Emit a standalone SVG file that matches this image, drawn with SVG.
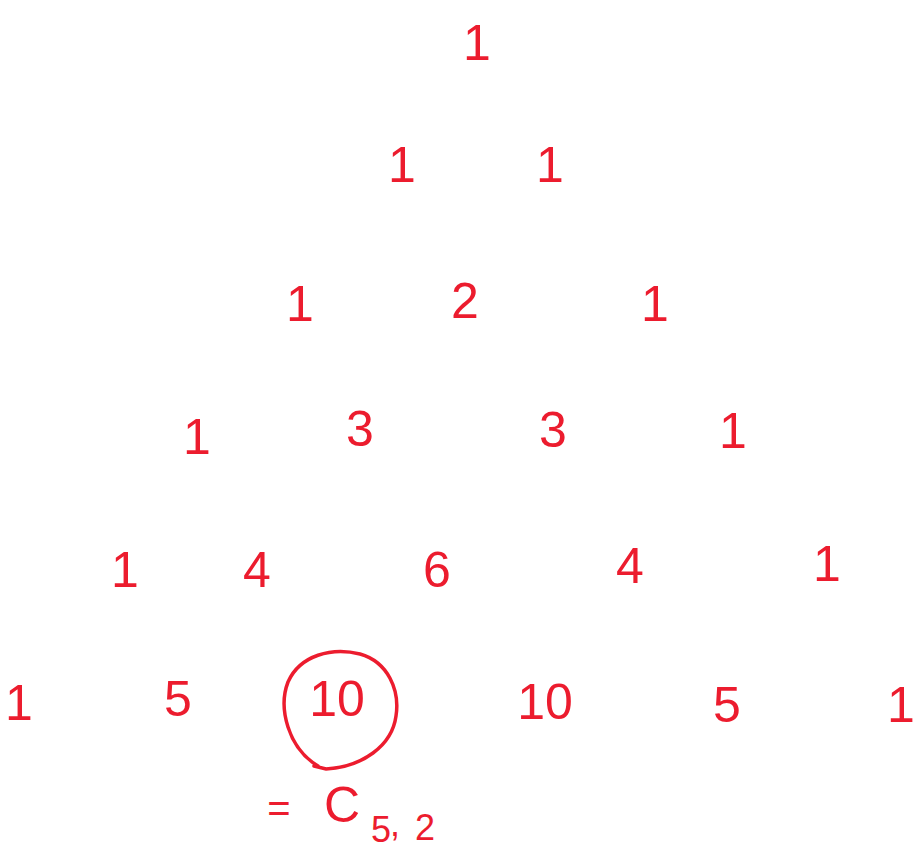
<svg xmlns="http://www.w3.org/2000/svg" width="917" height="855" viewBox="0 0 917 855">
<style>
.n{font-family:"Liberation Sans",Arial,sans-serif;font-size:50px;fill:#ec1c2e;text-anchor:middle}
.s{font-family:"Liberation Sans",Arial,sans-serif;font-size:36px;fill:#ec1c2e;text-anchor:middle}
.c{fill:none;stroke:#ec1c2e;stroke-width:3.5;stroke-linecap:round}
</style>
<rect width="917" height="855" fill="#ffffff"/>
<g id="r0"><text class="n" x="477" y="60">1</text></g>
<g id="r1"><text class="n" x="402" y="182">1</text><text class="n" x="550" y="182">1</text></g>
<g id="r2"><text class="n" x="300" y="321">1</text><text class="n" x="465" y="318">2</text><text class="n" x="655" y="321">1</text></g>
<g id="r3"><text class="n" x="197" y="454">1</text><text class="n" x="360" y="446">3</text><text class="n" x="553" y="447">3</text><text class="n" x="733" y="448">1</text></g>
<g id="r4"><text class="n" x="125" y="587">1</text><text class="n" x="257" y="587">4</text><text class="n" x="437" y="587">6</text><text class="n" x="630" y="583">4</text><text class="n" x="827" y="581">1</text></g>
<g id="r5"><text class="n" x="19" y="720">1</text><text class="n" x="178" y="716">5</text><text class="n" x="337" y="716">10</text><text class="n" x="545" y="719">10</text><text class="n" x="727" y="722">5</text><text class="n" x="901" y="722">1</text></g>
<g id="circle"><path class="c" d="M318,766 C288,748 278,708 288,682 C300,655 332,647 360,654 C388,662 400,690 396,716 C392,746 362,767 326,769 L314,766"/></g>
<g id="label"><text class="n" x="279" y="822" style="font-size:40px">=</text><text class="n" x="342" y="822">C</text><text class="s" x="381" y="842">5</text><text class="s" x="395" y="836">,</text><text class="s" x="425" y="840">2</text></g>
</svg>
